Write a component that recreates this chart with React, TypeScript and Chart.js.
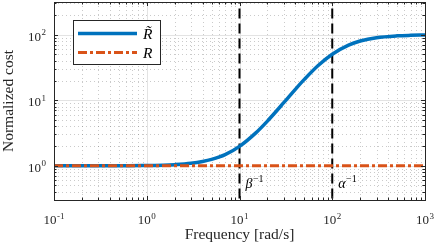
import React, { useEffect, useRef } from "react";
import { Chart, registerables } from "chart.js";

Chart.register(...registerables);

// ---- Data ----
const frequency = [0.1, 0.2, 0.5, 1, 1.5, 2, 3, 4, 5, 7, 10, 15, 20, 30, 40, 50, 70, 100, 150, 200, 300, 500, 700, 1000];
const costRTilde = [1.0, 1.0, 1.0, 1.01, 1.02, 1.04, 1.09, 1.16, 1.25, 1.48, 1.98, 3.18, 4.81, 9.17, 14.7, 20.8, 33.6, 50.5, 69.5, 80.2, 90.1, 96.2, 98.0, 99.0];
const frequencyR = [0.1, 1000];
const costR = [1, 1];
const markerFrequencies = [10, 100];
const markerSymbols = ["β", "α"];
const xTickExponents = [-1, 0, 1, 2, 3];
const yTickExponents = [0, 1, 2];
const xRange = [0.1, 1000];
const yRange = [Math.pow(10, -0.5), Math.pow(10, 2.5)];
const legendLabels = ["R\u0303", "R"];

const BLUE = "#0072BD";
const ORANGE = "#D95319";
const SERIF = '"Liberation Serif", "Times New Roman", serif';

function drawPower(ctx: CanvasRenderingContext2D, base: string, exp: string, x: number, y: number, align: "center" | "right" | "left", size: number, italic = false) {
  const bf = `${italic ? "italic " : ""}${size}px ${SERIF}`;
  const ef = `${Math.round(size * 0.7)}px ${SERIF}`;
  ctx.font = bf;
  const wb = ctx.measureText(base).width;
  ctx.font = ef;
  const we = ctx.measureText(exp).width;
  const total = wb + we + 0.5;
  let sx = x;
  if (align === "center") sx = x - total / 2;
  else if (align === "right") sx = x - total;
  ctx.textAlign = "left";
  ctx.textBaseline = "alphabetic";
  ctx.font = bf;
  ctx.fillText(base, sx, y);
  ctx.font = ef;
  ctx.fillText(exp, sx + wb + 0.5, y - size * 0.42);
}

const axesPlugin = {
  id: "matlabAxes",
  beforeDatasetsDraw(chart: any) {
    const { ctx, chartArea: a, scales } = chart;
    const x = scales.x;
    const y = scales.y;
    ctx.save();
    ctx.lineWidth = 1;
    // minor grid (dotted)
    ctx.strokeStyle = "rgba(90,90,90,0.32)";
    ctx.setLineDash([1, 3]);
    for (let d = -1; d < 3; d++) {
      for (let k = 2; k <= 9; k++) {
        const px = Math.round(x.getPixelForValue(k * Math.pow(10, d))) + 0.5;
        ctx.beginPath();
        ctx.moveTo(px, a.top);
        ctx.lineTo(px, a.bottom);
        ctx.stroke();
      }
    }
    for (let d = -1; d < 3; d++) {
      for (let k = 2; k <= 9; k++) {
        const v = k * Math.pow(10, d);
        if (v < yRange[0] || v > yRange[1]) continue;
        const py = Math.round(y.getPixelForValue(v)) + 0.5;
        ctx.beginPath();
        ctx.moveTo(a.left, py);
        ctx.lineTo(a.right, py);
        ctx.stroke();
      }
    }
    // major grid (solid light)
    ctx.setLineDash([]);
    ctx.strokeStyle = "#e3e3e3";
    xTickExponents.forEach((e) => {
      const px = Math.round(x.getPixelForValue(Math.pow(10, e))) + 0.5;
      ctx.beginPath();
      ctx.moveTo(px, a.top);
      ctx.lineTo(px, a.bottom);
      ctx.stroke();
    });
    yTickExponents.forEach((e) => {
      const py = Math.round(y.getPixelForValue(Math.pow(10, e))) + 0.5;
      ctx.beginPath();
      ctx.moveTo(a.left, py);
      ctx.lineTo(a.right, py);
      ctx.stroke();
    });
    ctx.restore();
  },
  afterDraw(chart: any) {
    const { ctx, chartArea: a, scales } = chart;
    const x = scales.x;
    const y = scales.y;
    ctx.save();
    ctx.setLineDash([]);
    ctx.strokeStyle = "#262626";
    ctx.lineWidth = 1;
    // ticks inward on all sides
    const major = 4;
    const minor = 2.5;
    for (let d = -1; d <= 3; d++) {
      for (let k = 1; k <= 9; k++) {
        const v = k * Math.pow(10, d);
        if (v < xRange[0] - 1e-9 || v > xRange[1] + 1e-9) continue;
        const len = k === 1 ? major : minor;
        const px = Math.round(x.getPixelForValue(v)) + 0.5;
        ctx.beginPath();
        ctx.moveTo(px, a.bottom);
        ctx.lineTo(px, a.bottom - len);
        ctx.moveTo(px, a.top);
        ctx.lineTo(px, a.top + len);
        ctx.stroke();
      }
    }
    for (let d = -1; d <= 2; d++) {
      for (let k = 1; k <= 9; k++) {
        const v = k * Math.pow(10, d);
        if (v < yRange[0] || v > yRange[1]) continue;
        const len = k === 1 ? major : minor;
        const py = Math.round(y.getPixelForValue(v)) + 0.5;
        ctx.beginPath();
        ctx.moveTo(a.left, py);
        ctx.lineTo(a.left + len, py);
        ctx.moveTo(a.right, py);
        ctx.lineTo(a.right - len, py);
        ctx.stroke();
      }
    }
    // box
    ctx.strokeRect(Math.round(a.left) + 0.5, Math.round(a.top) + 0.5, Math.round(a.right - a.left), Math.round(a.bottom - a.top));

    // tick labels
    ctx.fillStyle = "#262626";
    xTickExponents.forEach((e) => {
      drawPower(ctx, "10", String(e), x.getPixelForValue(Math.pow(10, e)), a.bottom + 24, "center", 13);
    });
    yTickExponents.forEach((e) => {
      drawPower(ctx, "10", String(e), a.left - 8, y.getPixelForValue(Math.pow(10, e)) + 6, "right", 13);
    });

    // axis titles
    ctx.font = `15.5px ${SERIF}`;
    ctx.textAlign = "center";
    ctx.textBaseline = "alphabetic";
    ctx.fillText("Frequency [rad/s]", (a.left + a.right) / 2, 239);
    ctx.save();
    ctx.translate(13, (a.top + a.bottom) / 2);
    ctx.rotate(-Math.PI / 2);
    ctx.fillText("Normalized cost", 0, 0);
    ctx.restore();

    // marker annotations
    ctx.fillStyle = "#000";
    markerFrequencies.forEach((f, i) => {
      drawPower(ctx, markerSymbols[i], "\u22121", x.getPixelForValue(f) + 6, a.bottom - 12, "left", 14, true);
    });

    // legend
    const lx = a.left + 19;
    const ly = a.top + 18;
    const lw = 87;
    const lh = 44;
    ctx.fillStyle = "#fff";
    ctx.fillRect(lx, ly, lw, lh);
    ctx.strokeStyle = "#262626";
    ctx.lineWidth = 1;
    ctx.strokeRect(Math.round(lx) + 0.5, Math.round(ly) + 0.5, lw, lh);
    ctx.lineWidth = 3.5;
    ctx.strokeStyle = BLUE;
    ctx.beginPath();
    ctx.moveTo(lx + 5, ly + 13.5);
    ctx.lineTo(lx + 64, ly + 13.5);
    ctx.stroke();
    ctx.lineWidth = 3;
    ctx.strokeStyle = ORANGE;
    ctx.setLineDash([9, 3, 3, 3]);
    ctx.beginPath();
    ctx.moveTo(lx + 5, ly + 32.5);
    ctx.lineTo(lx + 64, ly + 32.5);
    ctx.stroke();
    ctx.setLineDash([]);
    ctx.fillStyle = "#000";
    ctx.font = `italic 15.5px ${SERIF}`;
    ctx.textAlign = "left";
    ctx.fillText(legendLabels[0], lx + 70, ly + 19);
    ctx.fillText(legendLabels[1], lx + 70, ly + 38);
    ctx.restore();
  },
};

export default function App() {
  const canvasRef = useRef<HTMLCanvasElement | null>(null);

  useEffect(() => {
    document.body.style.margin = "0";
    const canvas = canvasRef.current;
    if (!canvas) return;
    const datasets: any[] = [
      {
        label: legendLabels[1],
        data: frequencyR.map((f, i) => ({ x: f, y: costR[i] })),
        borderColor: ORANGE,
        borderWidth: 3,
        borderDash: [9, 3, 3, 3],
        pointRadius: 0,
        fill: false,
      },
      {
        label: legendLabels[0],
        data: frequency.map((f, i) => ({ x: f, y: costRTilde[i] })),
        borderColor: BLUE,
        borderWidth: 3.5,
        pointRadius: 0,
        cubicInterpolationMode: "monotone",
        fill: false,
      },
      ...markerFrequencies.map((f) => ({
        label: "marker",
        data: [
          { x: f, y: yRange[0] },
          { x: f, y: yRange[1] },
        ],
        borderColor: "#000",
        borderWidth: 2,
        borderDash: [10, 5],
        pointRadius: 0,
        fill: false,
      })),
    ];
    const chart = new Chart(canvas, {
      type: "line",
      data: { datasets },
      options: {
        responsive: false,
        animation: false,
        layout: { padding: { left: 54, right: 11, top: 2, bottom: 52 } },
        plugins: { legend: { display: false }, tooltip: { enabled: false } },
        scales: {
          x: { type: "logarithmic", min: xRange[0], max: xRange[1], display: false },
          y: { type: "logarithmic", min: yRange[0], max: yRange[1], display: false },
        },
      },
      plugins: [axesPlugin],
    } as any);
    return () => chart.destroy();
  }, []);

  return (
    <div style={{ width: 436, height: 252, background: "#fff" }}>
      <canvas ref={canvasRef} width={436} height={252} />
    </div>
  );
}
